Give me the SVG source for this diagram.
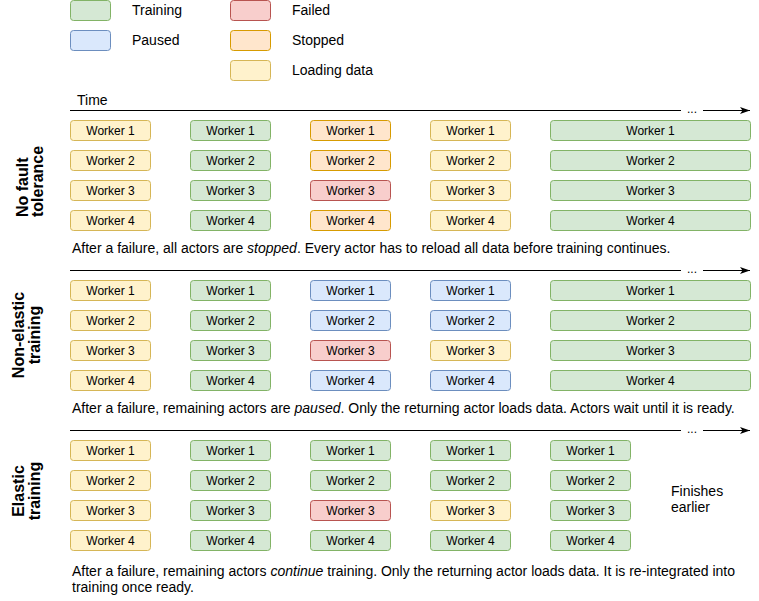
<svg xmlns="http://www.w3.org/2000/svg" width="759" height="601" viewBox="0 0 759 601">
<style>
  text { font-family: "Liberation Sans", Arial, sans-serif; font-size: 14px; fill: #000; }
  .c { text-anchor: middle; }
  .wk text { font-size: 12px; }
  .lbl { font-weight: bold; font-size: 16px; }
  rect.box { stroke-width: 1; }
  .tr { fill: #d5e8d4; stroke: #82b366; }
  .pa { fill: #dae8fc; stroke: #6c8ebf; }
  .fa { fill: #f8cecc; stroke: #b85450; }
  .st { fill: #ffe6cc; stroke: #d79b00; }
  .ld { fill: #fff2cc; stroke: #d6b656; }
  .ax { stroke: #000; stroke-width: 1; fill: none; }
  .dots { font-size: 12px; }
</style>
<defs>
  <marker id="ah" markerWidth="10" markerHeight="8" refX="10" refY="4" orient="auto" markerUnits="userSpaceOnUse">
    <path d="M0,0.5 L10,4 L0,7.5 L2.5,4 Z" fill="#000"/>
  </marker>
</defs>

<g id="legend">
  <g id="leg-training"><rect class="box tr" x="70.5" y="0.5" width="40" height="20" rx="3"/><text x="132" y="15">Training</text></g>
  <g id="leg-paused"><rect class="box pa" x="70.5" y="30.5" width="40" height="20" rx="3"/><text x="132" y="45">Paused</text></g>
  <g id="leg-failed"><rect class="box fa" x="230.5" y="0.5" width="40" height="20" rx="3"/><text x="292" y="15">Failed</text></g>
  <g id="leg-stopped"><rect class="box st" x="230.5" y="30.5" width="40" height="20" rx="3"/><text x="292" y="45">Stopped</text></g>
  <g id="leg-loading"><rect class="box ld" x="230.5" y="60.5" width="40" height="20" rx="3"/><text x="292" y="75">Loading data</text></g>
</g>

<g id="connectors">
  <text x="77" y="105">Time</text>
  <line class="ax" x1="70" y1="110.5" x2="750" y2="110.5" marker-end="url(#ah)"/>
  <rect x="681" y="103" width="22" height="14" fill="#fff"/>
  <text class="c dots" x="692" y="113">...</text>
  <line class="ax" x1="70" y1="270.5" x2="750" y2="270.5" marker-end="url(#ah)"/>
  <rect x="681" y="263" width="22" height="14" fill="#fff"/>
  <text class="c dots" x="692" y="273">...</text>
  <line class="ax" x1="70" y1="430.5" x2="750" y2="430.5" marker-end="url(#ah)"/>
  <rect x="681" y="423" width="22" height="14" fill="#fff"/>
  <text class="c dots" x="692" y="433">...</text>
</g>

<!-- Section 1: No fault tolerance -->
<g id="sec1-label"><text class="lbl" transform="translate(28,217) rotate(-90)">No fault</text><text class="lbl" transform="translate(43,217) rotate(-90)">tolerance</text></g>
<g id="s1c1" class="wk">
  <rect class="box ld" x="70.5" y="120.5" width="80" height="20" rx="3"/><text class="c" x="110.5" y="135">Worker 1</text>
  <rect class="box ld" x="70.5" y="150.5" width="80" height="20" rx="3"/><text class="c" x="110.5" y="165">Worker 2</text>
  <rect class="box ld" x="70.5" y="180.5" width="80" height="20" rx="3"/><text class="c" x="110.5" y="195">Worker 3</text>
  <rect class="box ld" x="70.5" y="210.5" width="80" height="20" rx="3"/><text class="c" x="110.5" y="225">Worker 4</text>
</g>
<g id="s1c2" class="wk">
  <rect class="box tr" x="190.5" y="120.5" width="80" height="20" rx="3"/><text class="c" x="230.5" y="135">Worker 1</text>
  <rect class="box tr" x="190.5" y="150.5" width="80" height="20" rx="3"/><text class="c" x="230.5" y="165">Worker 2</text>
  <rect class="box tr" x="190.5" y="180.5" width="80" height="20" rx="3"/><text class="c" x="230.5" y="195">Worker 3</text>
  <rect class="box tr" x="190.5" y="210.5" width="80" height="20" rx="3"/><text class="c" x="230.5" y="225">Worker 4</text>
</g>
<g id="s1c3" class="wk">
  <rect class="box st" x="310.5" y="120.5" width="80" height="20" rx="3"/><text class="c" x="350.5" y="135">Worker 1</text>
  <rect class="box st" x="310.5" y="150.5" width="80" height="20" rx="3"/><text class="c" x="350.5" y="165">Worker 2</text>
  <rect class="box fa" x="310.5" y="180.5" width="80" height="20" rx="3"/><text class="c" x="350.5" y="195">Worker 3</text>
  <rect class="box st" x="310.5" y="210.5" width="80" height="20" rx="3"/><text class="c" x="350.5" y="225">Worker 4</text>
</g>
<g id="s1c4" class="wk">
  <rect class="box ld" x="430.5" y="120.5" width="80" height="20" rx="3"/><text class="c" x="470.5" y="135">Worker 1</text>
  <rect class="box ld" x="430.5" y="150.5" width="80" height="20" rx="3"/><text class="c" x="470.5" y="165">Worker 2</text>
  <rect class="box ld" x="430.5" y="180.5" width="80" height="20" rx="3"/><text class="c" x="470.5" y="195">Worker 3</text>
  <rect class="box ld" x="430.5" y="210.5" width="80" height="20" rx="3"/><text class="c" x="470.5" y="225">Worker 4</text>
</g>
<g id="s1c5" class="wk">
  <rect class="box tr" x="550.5" y="120.5" width="200" height="20" rx="3"/><text class="c" x="650.5" y="135">Worker 1</text>
  <rect class="box tr" x="550.5" y="150.5" width="200" height="20" rx="3"/><text class="c" x="650.5" y="165">Worker 2</text>
  <rect class="box tr" x="550.5" y="180.5" width="200" height="20" rx="3"/><text class="c" x="650.5" y="195">Worker 3</text>
  <rect class="box tr" x="550.5" y="210.5" width="200" height="20" rx="3"/><text class="c" x="650.5" y="225">Worker 4</text>
</g>
<g id="s1-caption"><text x="72" y="253">After a failure, all actors are <tspan font-style="italic">stopped</tspan>. Every actor has to reload all data before training continues.</text></g>

<!-- Section 2: Non-elastic training -->
<g id="sec2-label"><text class="lbl c" transform="translate(24,335) rotate(-90)">Non-elastic</text><text class="lbl c" transform="translate(40,335) rotate(-90)">training</text></g>
<g id="s2c1" class="wk">
  <rect class="box ld" x="70.5" y="280.5" width="80" height="20" rx="3"/><text class="c" x="110.5" y="295">Worker 1</text>
  <rect class="box ld" x="70.5" y="310.5" width="80" height="20" rx="3"/><text class="c" x="110.5" y="325">Worker 2</text>
  <rect class="box ld" x="70.5" y="340.5" width="80" height="20" rx="3"/><text class="c" x="110.5" y="355">Worker 3</text>
  <rect class="box ld" x="70.5" y="370.5" width="80" height="20" rx="3"/><text class="c" x="110.5" y="385">Worker 4</text>
</g>
<g id="s2c2" class="wk">
  <rect class="box tr" x="190.5" y="280.5" width="80" height="20" rx="3"/><text class="c" x="230.5" y="295">Worker 1</text>
  <rect class="box tr" x="190.5" y="310.5" width="80" height="20" rx="3"/><text class="c" x="230.5" y="325">Worker 2</text>
  <rect class="box tr" x="190.5" y="340.5" width="80" height="20" rx="3"/><text class="c" x="230.5" y="355">Worker 3</text>
  <rect class="box tr" x="190.5" y="370.5" width="80" height="20" rx="3"/><text class="c" x="230.5" y="385">Worker 4</text>
</g>
<g id="s2c3" class="wk">
  <rect class="box pa" x="310.5" y="280.5" width="80" height="20" rx="3"/><text class="c" x="350.5" y="295">Worker 1</text>
  <rect class="box pa" x="310.5" y="310.5" width="80" height="20" rx="3"/><text class="c" x="350.5" y="325">Worker 2</text>
  <rect class="box fa" x="310.5" y="340.5" width="80" height="20" rx="3"/><text class="c" x="350.5" y="355">Worker 3</text>
  <rect class="box pa" x="310.5" y="370.5" width="80" height="20" rx="3"/><text class="c" x="350.5" y="385">Worker 4</text>
</g>
<g id="s2c4" class="wk">
  <rect class="box pa" x="430.5" y="280.5" width="80" height="20" rx="3"/><text class="c" x="470.5" y="295">Worker 1</text>
  <rect class="box pa" x="430.5" y="310.5" width="80" height="20" rx="3"/><text class="c" x="470.5" y="325">Worker 2</text>
  <rect class="box ld" x="430.5" y="340.5" width="80" height="20" rx="3"/><text class="c" x="470.5" y="355">Worker 3</text>
  <rect class="box pa" x="430.5" y="370.5" width="80" height="20" rx="3"/><text class="c" x="470.5" y="385">Worker 4</text>
</g>
<g id="s2c5" class="wk">
  <rect class="box tr" x="550.5" y="280.5" width="200" height="20" rx="3"/><text class="c" x="650.5" y="295">Worker 1</text>
  <rect class="box tr" x="550.5" y="310.5" width="200" height="20" rx="3"/><text class="c" x="650.5" y="325">Worker 2</text>
  <rect class="box tr" x="550.5" y="340.5" width="200" height="20" rx="3"/><text class="c" x="650.5" y="355">Worker 3</text>
  <rect class="box tr" x="550.5" y="370.5" width="200" height="20" rx="3"/><text class="c" x="650.5" y="385">Worker 4</text>
</g>
<g id="s2-caption"><text x="72" y="413">After a failure, remaining actors are <tspan font-style="italic">paused</tspan>. Only the returning actor loads data. Actors wait until it is ready.</text></g>

<!-- Section 3: Elastic training -->
<g id="sec3-label"><text class="lbl c" transform="translate(24,491) rotate(-90)">Elastic</text><text class="lbl c" transform="translate(40,491) rotate(-90)">training</text></g>
<g id="s3c1" class="wk">
  <rect class="box ld" x="70.5" y="440.5" width="80" height="20" rx="3"/><text class="c" x="110.5" y="455">Worker 1</text>
  <rect class="box ld" x="70.5" y="470.5" width="80" height="20" rx="3"/><text class="c" x="110.5" y="485">Worker 2</text>
  <rect class="box ld" x="70.5" y="500.5" width="80" height="20" rx="3"/><text class="c" x="110.5" y="515">Worker 3</text>
  <rect class="box ld" x="70.5" y="530.5" width="80" height="20" rx="3"/><text class="c" x="110.5" y="545">Worker 4</text>
</g>
<g id="s3c2" class="wk">
  <rect class="box tr" x="190.5" y="440.5" width="80" height="20" rx="3"/><text class="c" x="230.5" y="455">Worker 1</text>
  <rect class="box tr" x="190.5" y="470.5" width="80" height="20" rx="3"/><text class="c" x="230.5" y="485">Worker 2</text>
  <rect class="box tr" x="190.5" y="500.5" width="80" height="20" rx="3"/><text class="c" x="230.5" y="515">Worker 3</text>
  <rect class="box tr" x="190.5" y="530.5" width="80" height="20" rx="3"/><text class="c" x="230.5" y="545">Worker 4</text>
</g>
<g id="s3c3" class="wk">
  <rect class="box tr" x="310.5" y="440.5" width="80" height="20" rx="3"/><text class="c" x="350.5" y="455">Worker 1</text>
  <rect class="box tr" x="310.5" y="470.5" width="80" height="20" rx="3"/><text class="c" x="350.5" y="485">Worker 2</text>
  <rect class="box fa" x="310.5" y="500.5" width="80" height="20" rx="3"/><text class="c" x="350.5" y="515">Worker 3</text>
  <rect class="box tr" x="310.5" y="530.5" width="80" height="20" rx="3"/><text class="c" x="350.5" y="545">Worker 4</text>
</g>
<g id="s3c4" class="wk">
  <rect class="box tr" x="430.5" y="440.5" width="80" height="20" rx="3"/><text class="c" x="470.5" y="455">Worker 1</text>
  <rect class="box tr" x="430.5" y="470.5" width="80" height="20" rx="3"/><text class="c" x="470.5" y="485">Worker 2</text>
  <rect class="box ld" x="430.5" y="500.5" width="80" height="20" rx="3"/><text class="c" x="470.5" y="515">Worker 3</text>
  <rect class="box tr" x="430.5" y="530.5" width="80" height="20" rx="3"/><text class="c" x="470.5" y="545">Worker 4</text>
</g>
<g id="s3c5" class="wk">
  <rect class="box tr" x="550.5" y="440.5" width="80" height="20" rx="3"/><text class="c" x="590.5" y="455">Worker 1</text>
  <rect class="box tr" x="550.5" y="470.5" width="80" height="20" rx="3"/><text class="c" x="590.5" y="485">Worker 2</text>
  <rect class="box tr" x="550.5" y="500.5" width="80" height="20" rx="3"/><text class="c" x="590.5" y="515">Worker 3</text>
  <rect class="box tr" x="550.5" y="530.5" width="80" height="20" rx="3"/><text class="c" x="590.5" y="545">Worker 4</text>
</g>
<g id="finishes"><text x="671" y="496">Finishes</text><text x="671" y="512">earlier</text></g>
<g id="s3-caption"><text x="72" y="576">After a failure, remaining actors <tspan font-style="italic">continue</tspan> training. Only the returning actor loads data. It is re-integrated into</text><text x="72" y="592">training once ready.</text></g>
</svg>
